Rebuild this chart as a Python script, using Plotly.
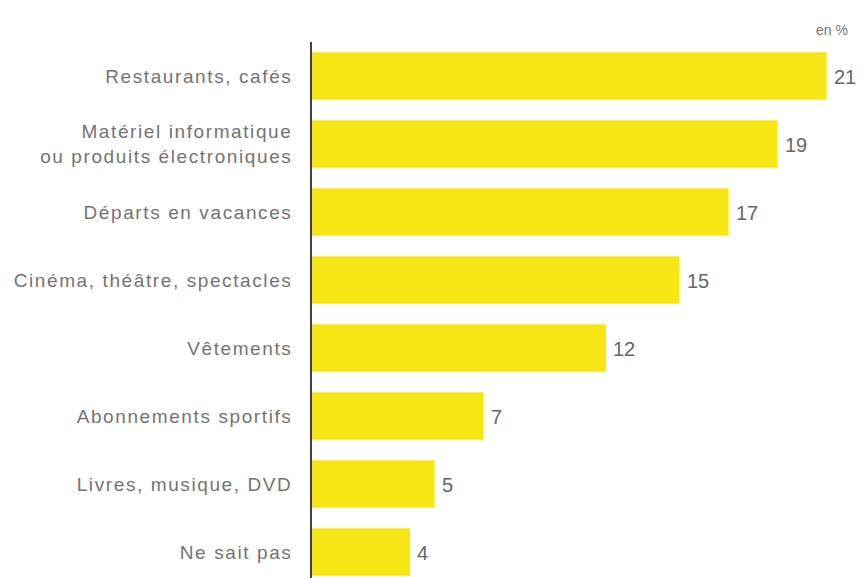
import plotly.graph_objects as go

categories = [
    "Restaurants, cafés",
    "Matériel informatique<br>ou produits électroniques",
    "Départs en vacances",
    "Cinéma, théâtre, spectacles",
    "Vêtements",
    "Abonnements sportifs",
    "Livres, musique, DVD",
    "Ne sait pas",
]
values = [21, 19, 17, 15, 12, 7, 5, 4]
unit_label = "en %"

bar_color = "#F6E616"
text_color = "#737373"

fig = go.Figure(
    go.Bar(
        x=values,
        y=categories,
        orientation="h",
        marker=dict(color=bar_color, line=dict(width=0)),
        width=0.7,
        hoverinfo="skip",
    )
)

for c, v in zip(categories, values):
    fig.add_annotation(
        x=v, y=c, text=str(v), showarrow=False,
        xanchor="left", xshift=5, yshift=-1,
        font=dict(family="Liberation Sans", size=20, color="#666666"),
    )

fig.add_annotation(
    x=1, y=1, xref="paper", yref="paper", text=unit_label, showarrow=False,
    xanchor="right", yanchor="bottom", xshift=-14, yshift=2,
    font=dict(family="Liberation Sans", size=14, color=text_color),
)

fig.update_layout(
    width=856, height=570,
    margin=dict(l=304, r=0, t=34, b=0),
    paper_bgcolor="white", plot_bgcolor="white",
    showlegend=False,
    bargap=0.3,
)
fig.update_xaxes(range=[0, 22.53], visible=False, showgrid=False, zeroline=False)
fig.update_yaxes(
    type="category",
    range=[7.382, -0.5],
    showline=True, linecolor="#4a4040", linewidth=1.5,
    showgrid=False, zeroline=False, ticks="",
    ticklabelstandoff=14,
    tickfont=dict(family="Liberation Sans", size=19, color=text_color),
)

post = """
var gd = document.getElementById('{plot_id}');
function spaceLabels(){
  gd.querySelectorAll('.ytick text').forEach(function(t){ t.style.letterSpacing = '1.6px'; });
}
spaceLabels();
gd.on('plotly_afterplot', spaceLabels);
"""

fig.write_html("out.html", post_script=post)
